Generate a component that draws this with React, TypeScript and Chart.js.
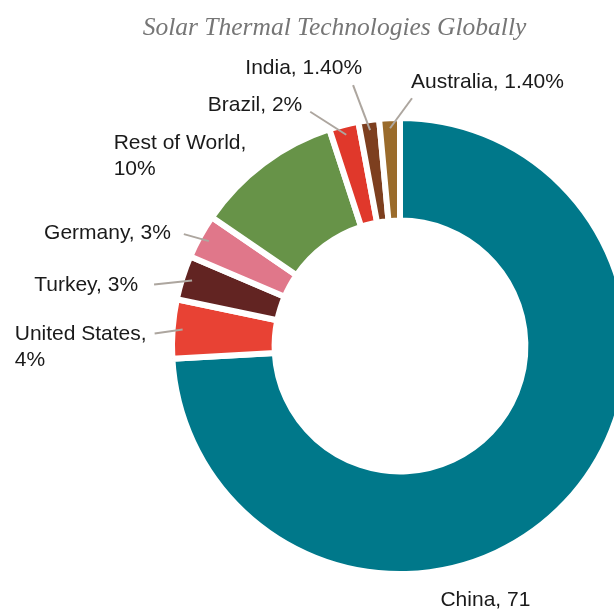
import React, { useEffect, useRef } from "react";
import { Chart, registerables } from "chart.js";

Chart.register(...registerables);

const title = "Solar Thermal Technologies Globally";
const categories = ["China", "United States", "Turkey", "Germany", "Rest of World", "Brazil", "India", "Australia"];
const values = [71, 4, 3, 3, 10, 2, 1.4, 1.4];
const valueLabels = ["71", "4%", "3%", "3%", "10%", "2%", "1.40%", "1.40%"];
const colors = ["#00788A", "#E84234", "#622422", "#E0778A", "#679348", "#E0382B", "#7D3F1F", "#9A6B2B"];
const wrapAfterComma = [false, true, false, false, true, false, false, false];

// label layout: leader-line end relative to a point inside the slice's outer edge
type LabelLayout = { dx: number; dy: number; line: boolean; align: "left" | "right" | "center"; gap: number; ty: number };
const labelLayout: LabelLayout[] = [
  { dx: -73, dy: 104, line: false, align: "center", gap: 0, ty: 0 },
  { dx: -28, dy: 4, line: true, align: "right", gap: 8, ty: 1 },
  { dx: -38, dy: 4, line: true, align: "right", gap: 16, ty: 1 },
  { dx: -25, dy: -7, line: true, align: "right", gap: 13, ty: -1 },
  { dx: 0, dy: 0, line: false, align: "right", gap: 23, ty: -28 },
  { dx: -36, dy: -23, line: true, align: "right", gap: 8, ty: -7 },
  { dx: -17, dy: -45, line: true, align: "right", gap: -9, ty: -17 },
  { dx: 22, dy: -30, line: true, align: "left", gap: -1, ty: -16 },
];

const BORDER = 6;

const labelPlugin = {
  id: "sliceLabels",
  afterDraw(chart: any) {
    const ctx = chart.ctx as CanvasRenderingContext2D;
    ctx.save();
    // title
    ctx.font = "italic 25.5px 'Liberation Serif'";
    ctx.fillStyle = "#767676";
    ctx.textAlign = "center";
    ctx.textBaseline = "alphabetic";
    ctx.fillText(title, 334.5, 35);

    const meta = chart.getDatasetMeta(0);
    ctx.font = "21px 'Liberation Sans'";
    ctx.textBaseline = "middle";
    meta.data.forEach((arc: any, i: number) => {
      const p = arc.getProps(["x", "y", "startAngle", "endAngle", "outerRadius"], true);
      const mid = (p.startAngle + p.endAngle) / 2;
      const r = p.outerRadius - BORDER / 2 - 7;
      const sx = p.x + Math.cos(mid) * r;
      const sy = p.y + Math.sin(mid) * r;
      const L = labelLayout[i];
      const ex = sx + L.dx;
      const ey = sy + L.dy;
      if (L.line) {
        ctx.strokeStyle = "#ADA69F";
        ctx.lineWidth = 2;
        ctx.beginPath();
        ctx.moveTo(sx, sy);
        ctx.lineTo(ex, ey);
        ctx.stroke();
      }
      const lines = wrapAfterComma[i]
        ? [categories[i] + ",", valueLabels[i]]
        : [categories[i] + ", " + valueLabels[i]];
      const w = Math.max(...lines.map((t) => ctx.measureText(t).width));
      let left: number;
      if (L.align === "left") left = ex + L.gap;
      else if (L.align === "right") left = ex - L.gap - w;
      else left = ex - w / 2;
      ctx.fillStyle = "#1A1A1A";
      ctx.textAlign = "left";
      lines.forEach((t, k) => {
        ctx.fillText(t, left, ey + L.ty + k * 26);
      });
    });
    ctx.restore();
  },
};

export default function App() {
  const ref = useRef<HTMLCanvasElement | null>(null);
  useEffect(() => {
    if (!ref.current) return;
    const chart = new Chart(ref.current, {
      type: "doughnut",
      data: {
        labels: categories,
        datasets: [
          {
            data: values,
            backgroundColor: colors,
            borderColor: "#FFFFFF",
            borderWidth: BORDER,
          },
        ],
      },
      options: {
        responsive: false,
        animation: false,
        events: [],
        cutout: "55%",
        layout: { padding: { left: 169, top: 115, right: 9, bottom: 32 } },
        plugins: {
          legend: { display: false },
          title: { display: false },
          tooltip: { enabled: false },
        },
      },
      plugins: [labelPlugin],
    });
    return () => chart.destroy();
  }, []);
  return (
    <div style={{ position: "fixed", left: 0, top: 0, width: 614, height: 609, overflow: "hidden", background: "#fff" }}>
      <canvas ref={ref} width={640} height={609} style={{ position: "absolute", left: 0, top: 0, width: 640, height: 609 }} />
    </div>
  );
}
